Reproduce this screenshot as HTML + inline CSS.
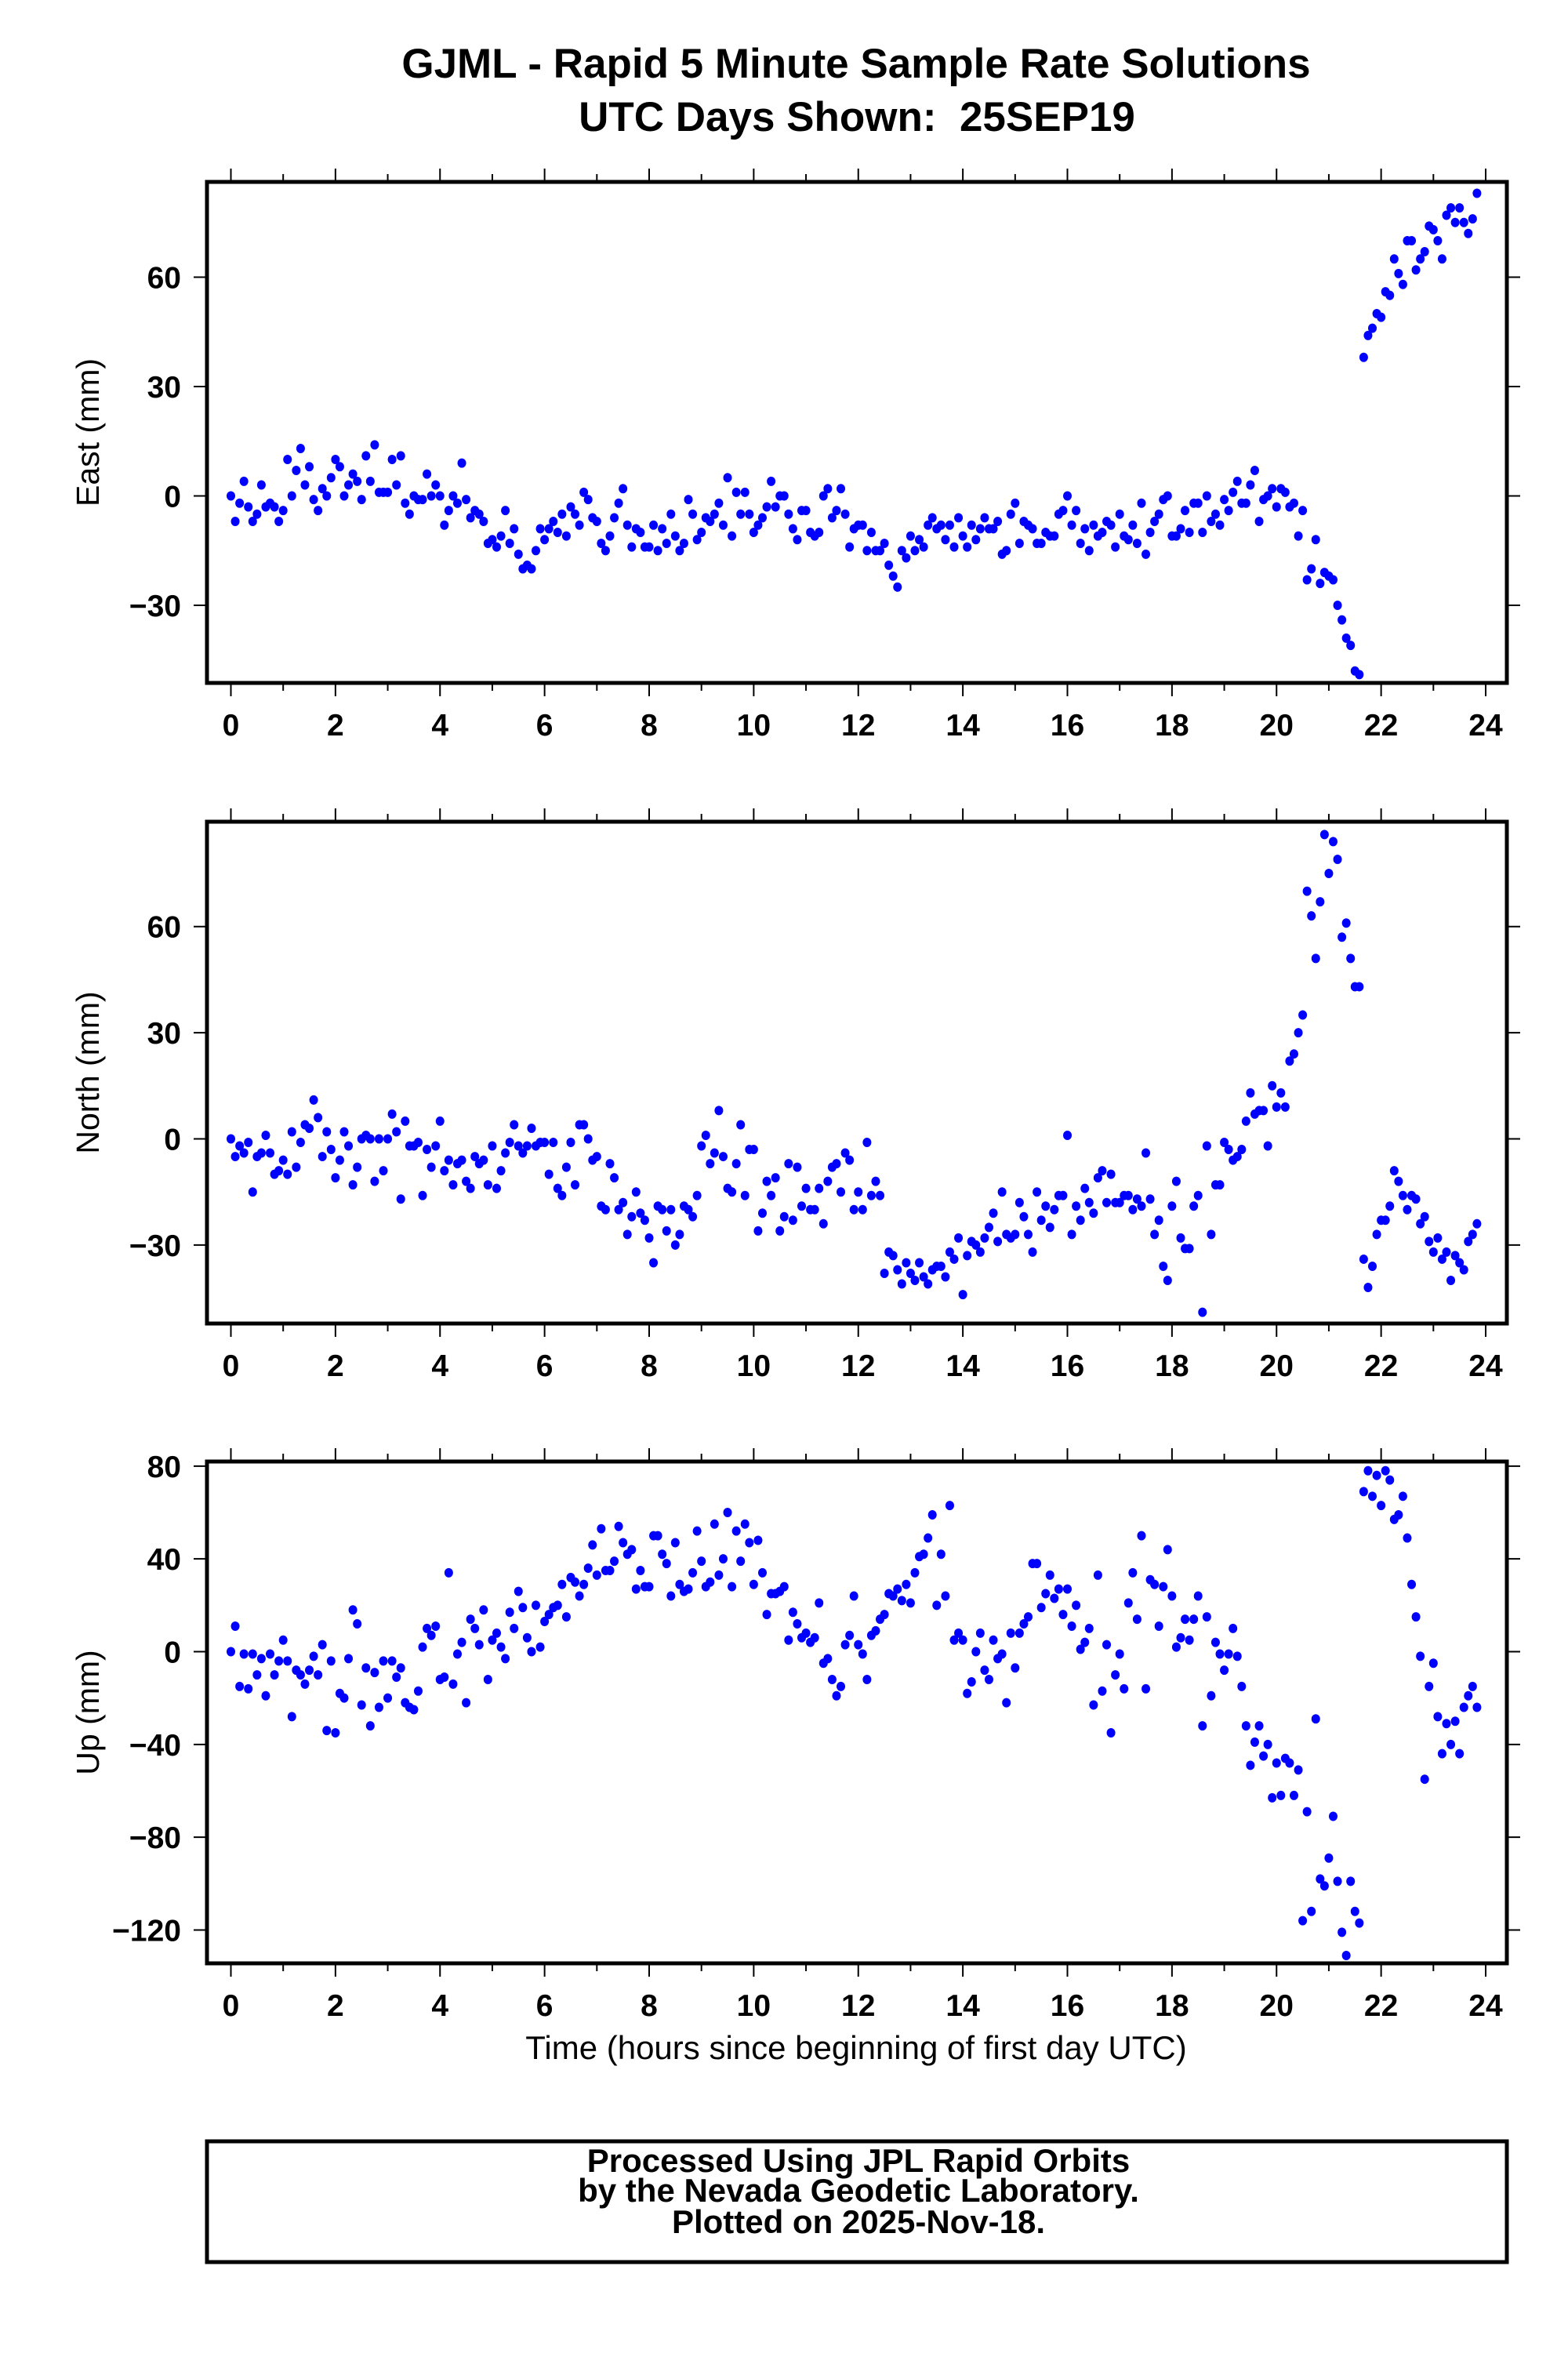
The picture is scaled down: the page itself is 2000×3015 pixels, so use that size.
<!DOCTYPE html>
<html><head><meta charset="utf-8"><style>
html,body{margin:0;padding:0;background:#fff;}
svg{display:block;}
text{font-family:"Liberation Sans",sans-serif;white-space:pre;}
</style></head><body>
<svg id="chart" width="2000" height="3015" viewBox="0 0 2000 3015" xmlns="http://www.w3.org/2000/svg">
<rect x="0" y="0" width="2000" height="3015" fill="#fff"/>
<text x="1092" y="99" font-size="53" font-weight="bold" text-anchor="middle">GJML - Rapid 5 Minute Sample Rate Solutions</text>
<text x="1093" y="167" font-size="53" font-weight="bold" text-anchor="middle" xml:space="preserve">UTC Days Shown:  25SEP19</text>
<g id="panels"></g>
<text x="1092" y="2626" font-size="42" text-anchor="middle">Time (hours since beginning of first day UTC)</text>
<rect x="264" y="2731" width="1658" height="154" fill="none" stroke="#000" stroke-width="5"/>
<text x="1095" y="2770" font-size="42" font-weight="bold" text-anchor="middle">Processed Using JPL Rapid Orbits</text>
<text x="1095" y="2808" font-size="42" font-weight="bold" text-anchor="middle">by the Nevada Geodetic Laboratory.</text>
<text x="1095" y="2848" font-size="42" font-weight="bold" text-anchor="middle">Plotted on 2025-Nov-18.</text>
</svg>
<script>
const xTicks = [0,2,4,6,8,10,12,14,16,18,20,22,24];
const eastTicks = [60,30,0,-30];
const northTicks = [60,30,0,-30];
const upTicks = [80,40,0,-40,-80,-120];
const eastValues = [0,-7,-2,4,-3,-7,-5,3,-3,-2,-3,-7,
-4,10,0,7,13,3,8,-1,-4,2,0,5,
10,8,0,3,6,4,-1,11,4,14,1,1,
1,10,3,11,-2,-5,0,-1,-1,6,0,3,
0,-8,-4,0,-2,9,-1,-6,-4,-5,-7,-13,
-12,-14,-11,-4,-13,-9,-16,-20,-19,-20,-15,-9,
-12,-9,-7,-10,-5,-11,-3,-5,-8,1,-1,-6,
-7,-13,-15,-11,-6,-2,2,-8,-14,-9,-10,-14,
-14,-8,-15,-9,-13,-5,-11,-15,-13,-1,-5,-12,
-10,-6,-7,-5,-2,-8,5,-11,1,-5,1,-5,
-10,-8,-6,-3,4,-3,0,0,-5,-9,-12,-4,
-4,-10,-11,-10,0,2,-6,-4,2,-5,-14,-9,
-8,-8,-15,-10,-15,-15,-13,-19,-22,-25,-15,-17,
-11,-15,-12,-14,-8,-6,-9,-8,-12,-8,-14,-6,
-11,-14,-8,-12,-9,-6,-9,-9,-7,-16,-15,-5,
-2,-13,-7,-8,-9,-13,-13,-10,-11,-11,-5,-4,
0,-8,-4,-13,-9,-15,-8,-11,-10,-7,-8,-14,
-5,-11,-12,-8,-13,-2,-16,-10,-7,-5,-1,0,
-11,-11,-9,-4,-10,-2,-2,-10,0,-7,-5,-8,
-1,-4,1,4,-2,-2,3,7,-7,-1,0,2,
-3,2,1,-3,-2,-11,-4,-23,-20,-12,-24,-21,
-22,-23,-30,-34,-39,-41,-48,-49,38,44,46,50,49,56,55,65,61,58,70,70,62,65,67,74,73,70,65,77,79,75,79,75,72,76,83];
const northValues = [0,-5,-2,-4,-1,-15,-5,-4,1,-4,-10,-9,
-6,-10,2,-8,-1,4,3,11,6,-5,2,-3,
-11,-6,2,-2,-13,-8,0,1,0,-12,0,-9,
0,7,2,-17,5,-2,-2,-1,-16,-3,-8,-2,
5,-9,-6,-13,-7,-6,-12,-14,-5,-7,-6,-13,
-2,-14,-9,-4,-1,4,-2,-4,-2,3,-2,-1,
-1,-10,-1,-14,-16,-8,-1,-13,4,4,0,-6,
-5,-19,-20,-7,-11,-20,-18,-27,-22,-15,-21,-23,
-28,-35,-19,-20,-26,-20,-30,-27,-19,-20,-22,-16,
-2,1,-7,-4,8,-5,-14,-15,-7,4,-16,-3,
-3,-26,-21,-12,-16,-11,-26,-22,-7,-23,-8,-19,
-14,-20,-20,-14,-24,-12,-8,-7,-15,-4,-6,-20,
-15,-20,-1,-16,-12,-16,-38,-32,-33,-37,-41,-35,
-38,-40,-35,-39,-41,-37,-36,-36,-39,-32,-34,-28,
-44,-33,-29,-30,-32,-28,-25,-21,-29,-15,-27,-28,
-27,-18,-22,-27,-32,-15,-23,-19,-25,-20,-16,-16,
1,-27,-19,-23,-14,-18,-21,-11,-9,-18,-10,-18,
-18,-16,-16,-20,-17,-19,-4,-17,-27,-23,-36,-40,
-19,-12,-28,-31,-31,-19,-16,-49,-2,-27,-13,-13,
-1,-3,-6,-5,-3,5,13,7,8,8,-2,15,
9,13,9,22,24,30,35,70,63,51,67,86,
75,84,79,57,61,51,43,43,-34,-42,-36,-27,-23,-23,-19,-9,-12,-16,-20,-16,-17,-24,-22,-29,-32,-28,-34,-32,-40,-33,-35,-37,-29,-27,-24];
const upValues = [0,11,-15,-1,-16,-1,-10,-3,-19,-1,-10,-4,
5,-4,-28,-8,-10,-14,-8,-2,-10,3,-34,-4,
-35,-18,-20,-3,18,12,-23,-7,-32,-9,-24,-4,
-20,-4,-11,-7,-22,-24,-25,-17,2,10,7,11,
-12,-11,34,-14,-1,4,-22,14,10,3,18,-12,
5,8,2,-3,17,10,26,19,6,0,20,2,
13,16,19,20,29,15,32,30,24,29,36,46,
33,53,35,35,39,54,47,42,44,27,35,28,
28,50,50,42,38,24,47,29,26,27,34,52,
39,28,30,55,33,40,60,28,52,39,55,47,
29,48,34,16,25,25,26,28,5,17,12,6,
8,4,6,21,-5,-3,-12,-19,-15,3,7,24,
3,-1,-12,7,9,14,16,25,24,27,22,29,
21,34,41,42,49,59,20,42,24,63,5,8,
5,-18,-13,0,8,-8,-12,5,-3,-1,-22,8,
-7,8,12,15,38,38,19,25,33,23,27,16,
27,11,20,1,4,10,-23,33,-17,3,-35,-10,
-1,-16,21,34,14,50,-16,31,29,11,28,44,
24,2,6,14,5,14,24,-32,15,-19,4,-1,
-8,-1,10,-2,-15,-32,-49,-39,-32,-45,-40,-63,
-48,-62,-46,-48,-62,-51,-116,-69,-112,-29,-98,-101,
-89,-71,-99,-121,-131,-99,-112,-117,69,78,67,76,63,78,74,57,59,67,49,29,15,-2,-55,-15,-5,-28,-44,-31,-40,-30,-44,-24,-19,-15,-24];

const NS = 'http://www.w3.org/2000/svg';
const X0 = 294.5, X1 = 1895, FL = 264, FR = 1922;
function xScale(h){ return X0 + (X1 - X0) * h / 24; }
function mk(tag, attrs, parent){ const e = document.createElementNS(NS, tag); for (const k in attrs) e.setAttribute(k, attrs[k]); parent.appendChild(e); return e; }

function drawPanel(key, title, values, yTicks, top, bottom, v0, pxPerUnit, y0px){
  const root = document.getElementById('panels');
  const g = mk('g', {}, root);
  
  
  const yScale = v => y0px - (v - v0) * pxPerUnit;
  for (let h = 0; h <= 24; h++){
    const x = xScale(h); const major = h % 2 === 0; const L = major ? 17 : 10;
    const t1 = mk('line', {x1:x, x2:x, y1:bottom, y2:bottom + L, stroke:'#000', 'stroke-width':2}, g);
    
    
    const t2 = mk('line', {x1:x, x2:x, y1:top, y2:top - L, stroke:'#000', 'stroke-width':2}, g);
    
    
  }
  xTicks.forEach(h => {
    const t = mk('text', {x:xScale(h), y:bottom + 67, 'font-size':39, 'font-weight':'bold', 'text-anchor':'middle'}, g);
    t.textContent = h;
    
    
  });
  yTicks.forEach(v => {
    const y = yScale(v);
    const a = mk('line', {x1:FL - 17, x2:FL, y1:y, y2:y, stroke:'#000', 'stroke-width':2}, g);
    
    
    const b = mk('line', {x1:FR, x2:FR + 17, y1:y, y2:y, stroke:'#000', 'stroke-width':2}, g);
    
    
    const t = mk('text', {x:FL - 33, y:y + 14, 'font-size':39, 'font-weight':'bold', 'text-anchor':'end'}, g);
    t.textContent = v < 0 ? '\u2212' + (-v) : String(v);
    
    
  });
  const cy = (top + bottom) / 2;
  const yt = mk('text', {x:0, y:0, 'font-size':41, 'text-anchor':'middle', transform:'translate(126,' + cy + ') rotate(-90)'}, g);
  yt.textContent = title;
  
  
  const pts = mk('g', {}, g);
  
  
  values.forEach((v, i) => {
    const y = yScale(v);
    if (y < top || y > bottom) return;
    const c = mk('ellipse', {cx:xScale(i / 12), cy:y, rx:5.5, ry:6, fill:'#0000ff'}, pts);
    
    
  });
  const fr = mk('rect', {x:FL, y:top, width:FR - FL, height:bottom - top, fill:'none', stroke:'#000', 'stroke-width':5}, g);
  
  
}
drawPanel('east', 'East (mm)', eastValues, eastTicks, 232, 871, 0, 4.65, 632.5);
drawPanel('north', 'North (mm)', northValues, northTicks, 1048, 1688, 0, 4.513, 1452.5);
drawPanel('up', 'Up (mm)', upValues, upTicks, 1864, 2504, 0, 2.958, 2106.5);
</script>
</body></html>
